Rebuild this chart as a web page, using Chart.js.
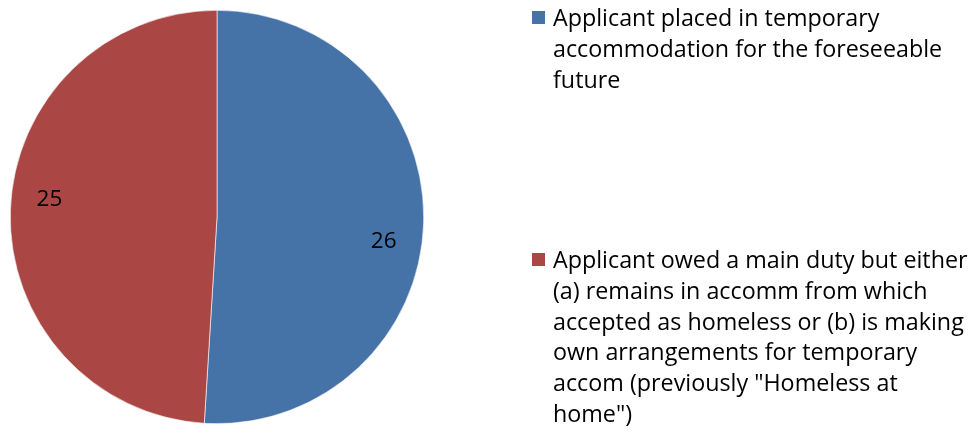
<!DOCTYPE html>
<html>
<head>
<meta charset="utf-8">
<script src="https://cdn.jsdelivr.net/npm/chart.js@4"></script>
<style>
  html, body { margin: 0; padding: 0; background: #fff; }
  #wrap { position: relative; width: 976px; height: 435px; }
  #c { position: absolute; left: 0; top: 0; }
  .leg { position: absolute; left: 532px; font-family: "Open Sans", Lato, sans-serif; font-size: 23.3px; color: #000; line-height: 30.8px; }
  .leg .sw { position: absolute; left: 0; width: 13px; height: 13px; }
  .leg .tx { position: absolute; left: 21px; white-space: nowrap; }
</style>
</head>
<body>
<div id="wrap">
  <canvas id="c" width="976" height="435"></canvas>
</div>
<script>
const categories = [
  ["Applicant placed in temporary", "accommodation for the foreseeable", "future"],
  ["Applicant owed a main duty but either", "(a) remains in accomm from which", "accepted as homeless or (b) is making", "own arrangements for temporary", "accom (previously \"Homeless at", "home\")"]
];
const values = [26, 25];
const colors = ["#4572A7", "#AA4643"];
const legendTops = [2, 244];

// legend (HTML text)
const wrap = document.getElementById('wrap');
categories.forEach((lines, i) => {
  const d = document.createElement('div');
  d.className = 'leg';
  d.style.top = legendTops[i] + 'px';
  const sw = document.createElement('div');
  sw.className = 'sw';
  sw.style.background = colors[i];
  sw.style.top = '9px';
  d.appendChild(sw);
  const tx = document.createElement('div');
  tx.className = 'tx';
  tx.innerHTML = lines.map(l => l.replace(/&/g,'&amp;').replace(/</g,'&lt;')).join('<br>');
  d.appendChild(tx);
  wrap.appendChild(d);
});

const labelOffsets = [6.6, 4.0]; // degrees shift from mid-angle (Excel best-fit placement)
const labelPlugin = {
  id: 'sliceLabels',
  afterDatasetsDraw(chart) {
    const ctx = chart.ctx;
    const meta = chart.getDatasetMeta(0);
    ctx.save();
    ctx.font = '22.5px "Open Sans", Lato, sans-serif';
    ctx.fillStyle = '#000';
    ctx.textAlign = 'center';
    ctx.textBaseline = 'middle';
    meta.data.forEach((arc, i) => {
      const p = arc.getProps(['x','y','startAngle','endAngle','outerRadius'], true);
      const mid = (p.startAngle + p.endAngle) / 2 + labelOffsets[i] * Math.PI / 180;
      const r = p.outerRadius * 0.815;
      ctx.fillText(String(values[i]), p.x + Math.cos(mid) * r, p.y + Math.sin(mid) * r);
    });
    ctx.restore();
  }
};

new Chart(document.getElementById('c'), {
  type: 'pie',
  data: {
    labels: categories.map(l => l.join(' ')),
    datasets: [{
      data: values,
      backgroundColor: colors,
      borderColor: '#ffffff',
      borderWidth: 0.6
    }]
  },
  options: {
    responsive: false,
    animation: false,
    layout: { padding: { left: 10, right: 552, top: 10, bottom: 11 } },
    plugins: { legend: { display: false }, tooltip: { enabled: false } }
  },
  plugins: [labelPlugin]
});
</script>
</body>
</html>
